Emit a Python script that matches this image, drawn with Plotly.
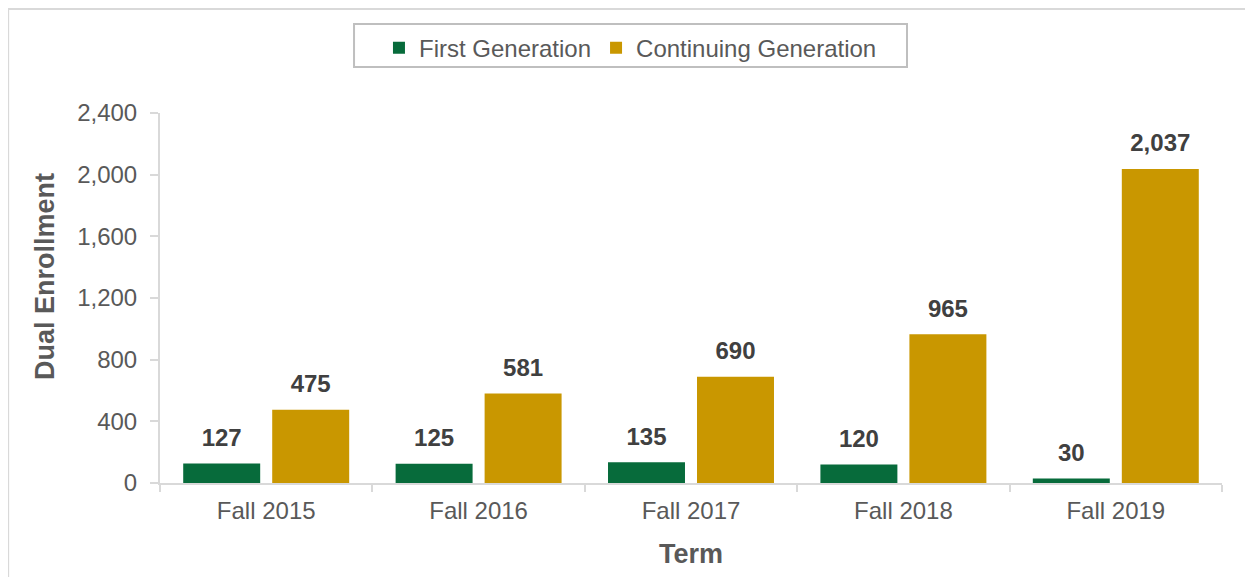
import plotly.graph_objects as go

terms = ["Fall 2015", "Fall 2016", "Fall 2017", "Fall 2018", "Fall 2019"]
first_gen = [127, 125, 135, 120, 30]
continuing_gen = [475, 581, 690, 965, 2037]
y_ticks = [0, 400, 800, 1200, 1600, 2000, 2400]

FONT = "Arial, Liberation Sans, sans-serif"
GREY = "#595959"
LBL = "#404040"
GREEN = "#076B3B"
GOLD = "#C99700"

fig = go.Figure()
for name, vals, col, grp in [("First Generation", first_gen, GREEN, "a"),
                             ("Continuing Generation", continuing_gen, GOLD, "b")]:
    fig.add_trace(go.Bar(
        name=name, x=terms, y=vals, offsetgroup=grp,
        marker=dict(color=col, line=dict(width=0)),
    ))
for vals, grp in [(first_gen, "a"), (continuing_gen, "b")]:
    fig.add_trace(go.Scatter(
        x=terms, y=vals, offsetgroup=grp, mode="markers+text",
        marker=dict(size=17, opacity=0), showlegend=False, hoverinfo="skip",
        texttemplate="%{y:,}", textposition="top center", cliponaxis=False,
        textfont=dict(family=FONT, size=24, color=LBL, weight="bold"),
    ))

fig.update_layout(
    width=1253, height=577,
    margin=dict(l=152, r=39, t=105, b=102),
    paper_bgcolor="white", plot_bgcolor="white",
    barmode="group", bargap=0.162, bargroupgap=0.135,
    scattermode="group", scattergap=0.162,
    font=dict(family=FONT, color=GREY),
    showlegend=True,
    legend=dict(
        orientation="h", x=0.443, xanchor="center", y=1.236, yanchor="top",
        borderwidth=0, bgcolor="rgba(0,0,0,0)",
        font=dict(family=FONT, size=24, color=GREY),
        itemwidth=30,
    ),
    xaxis=dict(
        title=dict(text="Term", font=dict(family=FONT, size=27, color=GREY, weight="bold"), standoff=21),
        showline=True, linecolor="#D9D9D9", linewidth=2,
        ticks="outside", tickson="boundaries", ticklen=7, tickcolor="#D9D9D9", tickwidth=2,
        tickfont=dict(family=FONT, size=24, color=GREY), ticklabelstandoff=5,
        showgrid=False,
    ),
    yaxis=dict(
        range=[0, 2400], tickvals=y_ticks, tickformat=",",
        showline=True, linecolor="#D9D9D9", linewidth=2,
        ticks="outside", ticklen=8, tickcolor="#D9D9D9", tickwidth=2,
        tickfont=dict(family=FONT, size=24, color=GREY), ticklabelstandoff=8,
        showgrid=False, zeroline=False,
    ),
    annotations=[dict(
        text="Dual Enrollment", textangle=-90, showarrow=False,
        xref="paper", yref="paper", x=-0.1083, y=0.5595,
        xanchor="center", yanchor="middle",
        font=dict(family=FONT, size=27, color=GREY, weight="bold"),
    )],
    shapes=[
        dict(type="rect", xref="paper", yref="paper",
             x0=-0.143, x1=1.2, y0=-0.4, y1=1.281,
             line=dict(color="#D9D9D9", width=2), fillcolor="rgba(0,0,0,0)", layer="below"),
        dict(type="rect", xref="paper", yref="paper",
             x0=0.1827, x1=0.7034, y0=1.1243, y1=1.2405,
             line=dict(color="#BFBFBF", width=2), fillcolor="white", layer="below"),
    ],
)

fig.write_html("out.html")
